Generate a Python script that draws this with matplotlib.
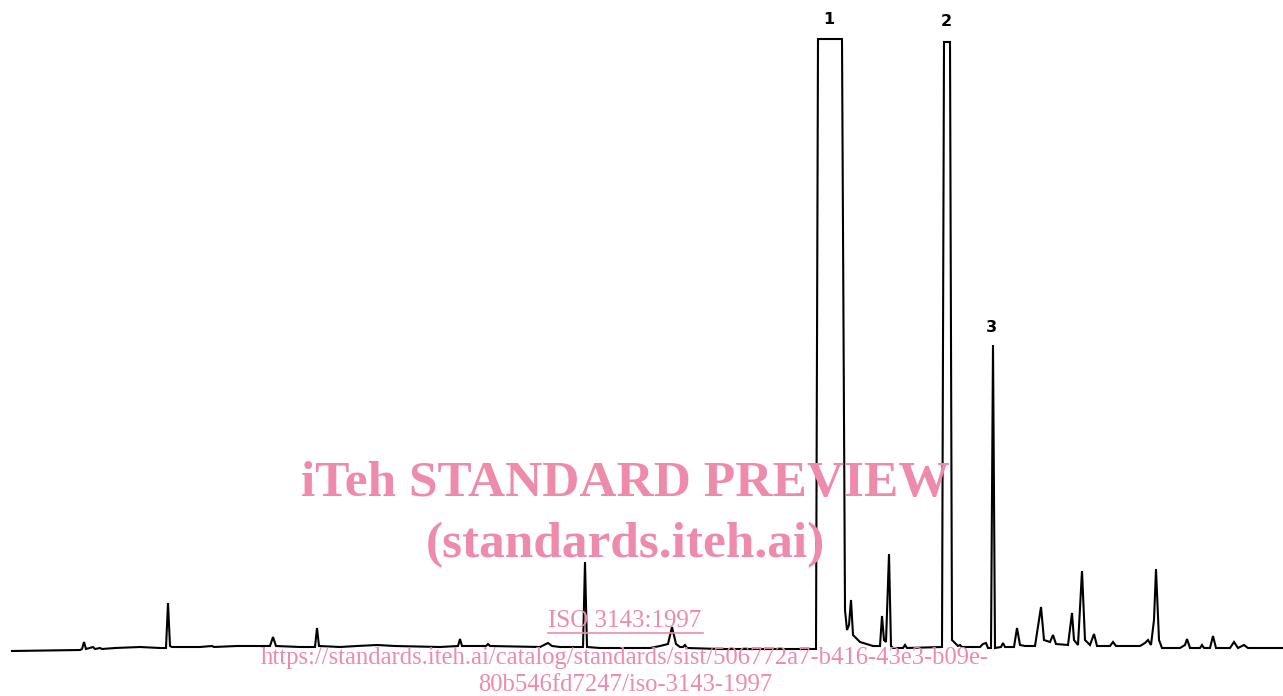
#!/usr/bin/env python

import matplotlib
matplotlib.use("Agg")
import matplotlib.pyplot as plt
from matplotlib.lines import Line2D

# chromatogram trace: retention position / detector response
trace_x = [12, 80, 82, 84, 86, 93, 95, 100, 102, 115, 140, 160, 166, 168, 170, 172,
           200, 212, 214, 237, 260, 270, 273, 276, 300, 315, 317, 319, 340, 357, 377,
           395, 440, 458, 460, 462, 486, 488, 490, 540, 546, 548, 552, 560, 583, 585,
           587, 600, 650, 655, 660, 668, 672, 676, 680, 683, 685, 687, 720, 816, 818,
           842, 845, 847, 849, 851, 853, 860, 873, 880, 882, 884, 886, 889, 891, 893,
           903, 905, 907, 942, 944, 950, 952, 958, 960, 962, 980, 983, 986, 988, 991,
           993, 995, 1001, 1003, 1005, 1014, 1017, 1020, 1025, 1035, 1041, 1044, 1050,
           1053, 1056, 1068, 1072, 1074, 1078, 1082, 1085, 1090, 1094, 1097, 1110, 1113,
           1116, 1140, 1145, 1148, 1151, 1154, 1156, 1159, 1162, 1180, 1185, 1187, 1190,
           1200, 1202, 1204, 1210, 1213, 1216, 1230, 1234, 1238, 1244, 1248, 1283]
trace_y = [-1, 0, 1, 8, 1, 3, 1, 2, 1, 2, 3, 2, 2, 47, 4, 3,
           3, 4, 3, 4, 4, 4, 13, 4, 3, 3, 22, 4, 3, 4, 5,
           4, 3, 4, 11, 4, 4, 6, 4, 3, 6, 7, 4, 3, 3, 88,
           3, 2, 2, 3, 4, 6, 23, 6, 3, 3, 5, 2, 1, 1, 611,
           611, 40, 20, 25, 50, 15, 8, 4, 4, 34, 10, 8, 96, 4, 2,
           2, 5, 2, 3, 608, 608, 10, 4, 5, 3, 3, 6, 7, 2, 2,
           305, 2, 3, 7, 3, 3, 22, 5, 4, 4, 43, 10, 8,
           15, 6, 5, 37, 10, 5, 79, 10, 5, 16, 4, 4, 8,
           4, 4, 7, 10, 5, 30, 81, 10, 2, 2, 5, 11, 2,
           2, 5, 2, 2, 14, 2, 2, 8, 2, 5, 2, 2]

peak_labels = ["1", "2", "3"]
peak_label_x = [829, 946, 991]
peak_label_y = [630, 628, 323]

watermark_lines = ["iTeh STANDARD PREVIEW", "(standards.iteh.ai)"]
iso_ref = "ISO 3143:1997"
url_lines = ["https://standards.iteh.ai/catalog/standards/sist/506772a7-b416-43e3-b09e-",
             "80b546fd7247/iso-3143-1997"]

pink = "#ee8aaa"

fig = plt.figure(figsize=(12.83, 6.96), dpi=100)
ax = fig.add_axes([0, 0, 1, 1])
ax.plot(trace_x, trace_y, color="black", lw=1.5, solid_joinstyle="miter")
ax.set_xlim(0, 1283)
ax.set_ylim(-46, 650)
ax.axis("off")

for lab, lx, ly in zip(peak_labels, peak_label_x, peak_label_y):
    ax.text(lx, ly, lab, ha="center", va="center", fontsize=11.5,
            fontweight="bold", family="DejaVu Sans")

# watermark (figure fraction coordinates)
W, H = 1283.0, 696.0
ax.text(625 / W, 1 - 484 / H, watermark_lines[0], transform=fig.transFigure,
        ha="center", va="center", fontsize=37, fontweight="bold",
        family="Liberation Serif", color=pink)
ax.text(625 / W, 1 - 545 / H, watermark_lines[1], transform=fig.transFigure,
        ha="center", va="center", fontsize=37, fontweight="bold",
        family="Liberation Serif", color=pink)
ax.text(625 / W, 1 - 621 / H, iso_ref, transform=fig.transFigure,
        ha="center", va="center", fontsize=18, family="Liberation Serif", color=pink)
fig.add_artist(Line2D([548 / W, 703 / W], [1 - 633 / H, 1 - 633 / H],
                      transform=fig.transFigure, color=pink, lw=1.2))
ax.text(625 / W, 1 - 658 / H, url_lines[0], transform=fig.transFigure,
        ha="center", va="center", fontsize=17.7, family="Liberation Serif", color=pink)
ax.text(625 / W, 1 - 685 / H, url_lines[1], transform=fig.transFigure,
        ha="center", va="center", fontsize=17.7, family="Liberation Serif", color=pink)

fig.savefig("out.png", dpi=100, facecolor="white")
